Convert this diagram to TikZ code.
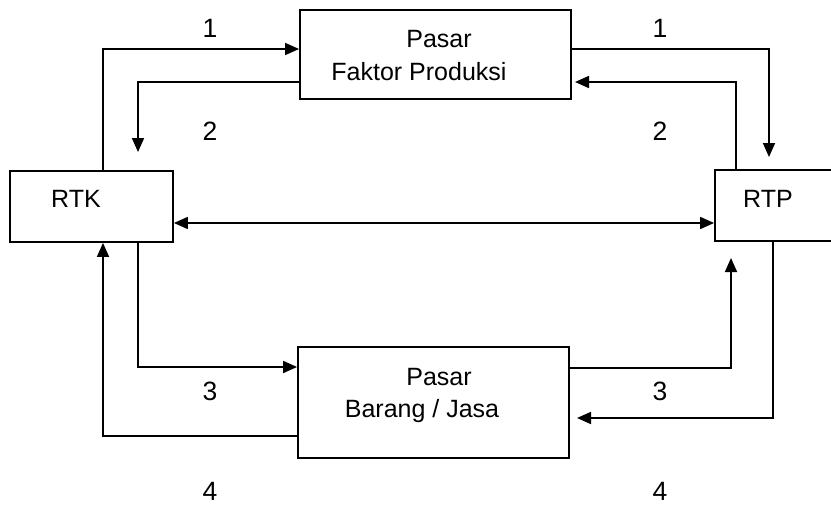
\documentclass[tikz,border=0pt]{standalone}
\usepackage{fontspec}
\setmainfont{Liberation Sans}
\usetikzlibrary{arrows.meta}
\begin{document}
\begin{tikzpicture}[x=1pt,y=-1pt,
  box/.style={draw,line width=1.8pt,rectangle,inner sep=0pt},
  lbl/.style={anchor=base,inner sep=0pt,font=\fontsize{25}{28}\selectfont},
  num/.style={anchor=base,inner sep=0pt,font=\fontsize{26.5}{30}\selectfont},
  arr/.style={line width=1.7pt,-{Triangle[length=14pt,width=12pt]}},
  dbl/.style={line width=1.7pt,{Triangle[length=14pt,width=12pt]}-{Triangle[length=14pt,width=12pt]}},
  ln/.style={line width=1.7pt}]
\useasboundingbox (0,0) rectangle (831,506);
% boxes
\node[box,minimum width=271pt,minimum height=89pt] (fp) at (435.5,54.5) {};
\node[box,minimum width=163pt,minimum height=71pt] (rtk) at (91.5,206.5) {};
\node[box,minimum width=118pt,minimum height=71pt] (rtp) at (774,205.5) {};
\node[box,minimum width=271pt,minimum height=111pt] (pb) at (433.5,402.5) {};
% texts
\node[lbl] (t1) at (439,47) {Pasar};
\node[lbl] (t2) at (419,80) {Faktor Produksi};
\node[lbl] (t3) at (76,207) {RTK};
\node[lbl] (t4) at (768,207) {RTP};
\node[lbl] (t5) at (439,385) {Pasar};
\node[lbl] (t6) at (422,417) {Barang / Jasa};
% numbers
\node[num] (n1l) at (210,37) {1};
\node[num] (n1r) at (660,37) {1};
\node[num] (n2l) at (210,140) {2};
\node[num] (n2r) at (660,140) {2};
\node[num] (n3l) at (210,400) {3};
\node[num] (n3r) at (660,400) {3};
\node[num] (n4l) at (210,500) {4};
\node[num] (n4r) at (660,500) {4};
% level coordinates
\coordinate (xL1) at (103,0);
\coordinate (xL2) at (138,0);
\coordinate (xR2) at (736,0);
\coordinate (xR4) at (773,0);
\coordinate (y1) at (0,49);
\coordinate (y2) at (0,82);
\coordinate (ym) at (0,223);
\coordinate (y3) at (0,367);
\coordinate (y4) at (0,436);
\coordinate (yb3) at (0,368);
% free ends
\coordinate (e2l) at (138,152);
\coordinate (e1r) at (769,157);
\coordinate (e2r) at (575,82);
\coordinate (e3r) at (731,258);
\coordinate (e4r) at (577,418);
% connectors
\draw[arr] (rtk.north -| xL1) |- (fp.west |- y1);
\draw[arr] (fp.west |- y2) -| (e2l);
\draw[dbl] (rtk.east |- ym) -- (rtp.west |- ym);
\draw[arr] (fp.east |- y1) -| (e1r);
\draw[arr] (rtp.north -| xR2) |- (e2r);
\draw[arr] (rtk.south -| xL2) |- (pb.west |- y3);
\draw[arr] (pb.west |- y4) -| (rtk.south -| xL1);
\draw[arr] (pb.east |- yb3) -| (e3r);
\draw[arr] (rtp.south -| xR4) |- (e4r);
\end{tikzpicture}
\end{document}
